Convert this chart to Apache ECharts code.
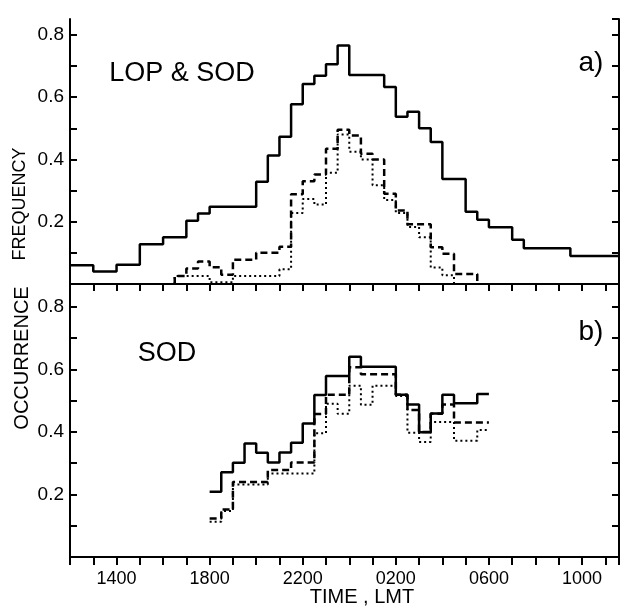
<!DOCTYPE html>
<html>
<head>
<meta charset="utf-8">
<script src="https://cdn.jsdelivr.net/npm/echarts@6/dist/echarts.min.js"></script>
<style>
  html, body { margin: 0; padding: 0; background: #fff; }
  #chart { width: 622px; height: 609px; }
</style>
</head>
<body>
<div id="chart"></div>
<script>
// time axis in hours LMT (12 = 1200, 26 = 0200 next day)
const tickHours = [14, 18, 22, 26, 30, 34]
const tickLabels = ['1400', '1800', '2200', '0200', '0600', '1000']

// a) LOP & SOD  -- bin start times and values
const topSolidStart = [12, 13, 14, 15, 16, 17, 17.5, 18, 20, 20.5, 21, 21.5, 22, 22.5, 23, 23.5, 24, 25.5, 26, 26.5, 27, 27.5, 28, 29, 29.5, 30, 31, 31.5, 33.5]
const topSolidVal = [0.06, 0.04, 0.062, 0.128, 0.15, 0.203, 0.226, 0.248, 0.328, 0.413, 0.473, 0.577, 0.642, 0.669, 0.706, 0.766, 0.671, 0.633, 0.537, 0.553, 0.50, 0.456, 0.337, 0.232, 0.206, 0.182, 0.142, 0.115, 0.09]
const topSolidEnd = 35.59

const topDashStart = [16.5, 17, 17.5, 18, 18.5, 19, 20, 21, 21.5, 22, 22.5, 23, 23.5, 24, 24.5, 25, 25.5, 26, 26.5, 27.5, 28, 28.5]
const topDashVal = [0.026, 0.05, 0.072, 0.054, 0.03, 0.078, 0.10, 0.12, 0.288, 0.33, 0.352, 0.434, 0.495, 0.477, 0.418, 0.40, 0.29, 0.236, 0.192, 0.118, 0.097, 0.032]
const topDashEnd = 29.5

const topDotStart = [16.5, 18, 19, 21, 21.5, 22, 22.5, 23, 23.5, 24, 24.5, 25, 25.5, 26, 26.5, 27, 27.5, 28]
const topDotVal = [0.026, 0.006, 0.026, 0.047, 0.228, 0.273, 0.255, 0.357, 0.48, 0.425, 0.40, 0.317, 0.27, 0.228, 0.183, 0.15, 0.053, 0.028]
const topDotEnd = 28.5

// b) SOD
const botSolidStart = [18, 18.5, 19, 19.5, 20, 20.5, 21, 21.5, 22, 22.5, 23, 24, 24.5, 26, 26.5, 27, 27.5, 28, 28.5, 29.5]
const botSolidVal = [0.209, 0.271, 0.301, 0.363, 0.333, 0.302, 0.334, 0.365, 0.427, 0.518, 0.579, 0.64, 0.608, 0.519, 0.488, 0.399, 0.459, 0.519, 0.492, 0.521]
const botSolidEnd = 30

const botDashStart = [18, 18.5, 19, 20.5, 21.5, 22.5, 23, 24, 24.5, 26, 26.5, 27, 27.5, 28, 28.5]
const botDashVal = [0.123, 0.152, 0.24, 0.278, 0.302, 0.457, 0.519, 0.607, 0.584, 0.519, 0.47, 0.40, 0.458, 0.488, 0.43]
const botDashEnd = 30

const botDotStart = [18, 18.5, 19, 20.5, 22.5, 23, 23.5, 24, 24.5, 25, 26, 26.5, 27, 27.5, 28.5, 29.5]
const botDotVal = [0.113, 0.147, 0.232, 0.267, 0.396, 0.49, 0.458, 0.548, 0.487, 0.548, 0.515, 0.397, 0.368, 0.432, 0.372, 0.406]
const botDotEnd = 30

// step points; fromZero = rise from / drop to the axis at both ends
function steps(starts, vals, end, fromZero) {
  let pts = starts.map((t, i) => [t, vals[i]])
  if (fromZero) {
    pts.unshift([starts[0], 0])
    pts.push([end, 0])
  } else {
    pts.push([end, vals[vals.length - 1]])
  }
  return pts
}

const black = '#000'
const font = 'Liberation Sans, Arial, sans-serif'

function xAxisCfg(grid, pos, opts) {
  return Object.assign({
    type: 'value', gridIndex: grid, position: pos,
    min: 12, max: topSolidEnd, interval: 1,
    axisLine: { show: true, lineStyle: { color: black, width: 2 } },
    axisTick: { show: true, inside: true, length: 7, lineStyle: { color: black, width: 2 } },
    axisLabel: { show: false },
    splitLine: { show: false }
  }, opts)
}

function yAxisCfg(grid, pos, max, showLabel) {
  return {
    type: 'value', gridIndex: grid, position: pos,
    min: 0, max: max, interval: 0.1,
    axisLine: { show: true, onZero: false, lineStyle: { color: black, width: 2 } },
    axisTick: { show: true, inside: true, length: 7, lineStyle: { color: black, width: 2 } },
    axisLabel: {
      show: showLabel, margin: 6, color: black, fontSize: 19, fontFamily: font,
      showMaxLabel: false,
      formatter: function (v) {
        let r = Math.round(v * 10)
        if (Math.abs(v * 10 - r) > 1e-6 || r === 0 || r % 2) return ''
        return v.toFixed(1)
      }
    },
    splitLine: { show: false }
  }
}

function line(name, data, xi, yi, type, width) {
  return {
    name: name, type: 'line', step: 'end', data: data,
    xAxisIndex: xi, yAxisIndex: yi,
    symbol: 'none', silent: true, animation: false,
    lineStyle: { color: black, width: width, type: type }
  }
}

function label(text, x, y, size, rot) {
  return {
    type: 'text', x: x, y: y, rotation: rot || 0,
    style: {
      text: text, fill: black, font: size + 'px ' + font,
      textAlign: 'center', textVerticalAlign: 'middle'
    }
  }
}

let chart = echarts.init(document.getElementById('chart'), null, { renderer: 'canvas' })
let option = {
  backgroundColor: '#fff',
  animation: false,
  grid: [
    { left: 70, top: 19, width: 549, height: 265 },
    { left: 70, top: 284, width: 549, height: 273 }
  ],
  xAxis: [
    xAxisCfg(0, 'bottom', { axisTick: { show: false } }),
    xAxisCfg(0, 'top', {}),
    xAxisCfg(1, 'bottom', {
      axisTick: { show: true, inside: false, length: 8, lineStyle: { color: black, width: 2 } },
      axisLabel: {
        show: true, margin: 13, color: black, fontSize: 18, fontFamily: font,
        formatter: function (v) {
          let i = tickHours.indexOf(v)
          return i >= 0 ? tickLabels[i] : ''
        }
      }
    }),
    xAxisCfg(1, 'top', {})
  ],
  yAxis: [
    yAxisCfg(0, 'left', 0.851, true),
    yAxisCfg(0, 'right', 0.851, false),
    yAxisCfg(1, 'left', 0.873, true),
    yAxisCfg(1, 'right', 0.873, false)
  ],
  series: [
    line('LOP & SOD solid', steps(topSolidStart, topSolidVal, topSolidEnd, false), 0, 0, 'solid', 2.5),
    line('LOP & SOD dashed', steps(topDashStart, topDashVal, topDashEnd, true), 0, 0, [7, 4], 2.5),
    line('LOP & SOD dotted', steps(topDotStart, topDotVal, topDotEnd, true), 0, 0, [2, 3], 2),
    line('SOD solid', steps(botSolidStart, botSolidVal, botSolidEnd, false), 2, 2, 'solid', 2.5),
    line('SOD dashed', steps(botDashStart, botDashVal, botDashEnd, false), 2, 2, [7, 4], 2.5),
    line('SOD dotted', steps(botDotStart, botDotVal, botDotEnd, false), 2, 2, [2, 3], 2)
  ],
  graphic: [
    label('LOP & SOD', 182, 74, 27),
    label('a)', 591, 63, 28),
    label('SOD', 167, 354, 27),
    label('b)', 591, 332, 28),
    label('FREQUENCY', 20, 204, 18, Math.PI / 2),
    label('OCCURRENCE', 22, 358, 20, Math.PI / 2),
    label('TIME , LMT', 362, 597, 20)
  ]
}
chart.setOption(option)
</script>
</body>
</html>
